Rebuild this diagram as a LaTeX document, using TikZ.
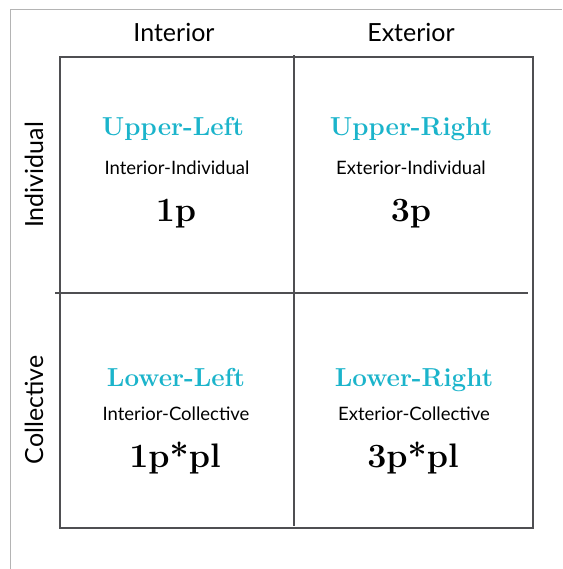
\documentclass[tikz,border=0pt]{standalone}
\usepackage{fontspec}
\newfontfamily\gill{Lato}
\definecolor{quadcyan}{HTML}{1BB4CB}
\definecolor{boxgray}{HTML}{4F4F52}
\definecolor{framegray}{HTML}{B4B4B4}
\begin{document}
\begin{tikzpicture}[x=1pt,y=-1pt,
  title/.style={text=quadcyan,font=\fontsize{26}{28}\selectfont\bfseries,inner sep=0pt},
  sub/.style={font=\gill\fontsize{18.5}{20}\selectfont,inner sep=0pt},
  code/.style={font=\fontsize{34}{36}\selectfont\bfseries,inner sep=0pt},
  head/.style={font=\gill\fontsize{25}{27}\selectfont,inner sep=0pt}]
\useasboundingbox (0,0) rectangle (562,569);
\fill[white] (0,0) rectangle (562,569);
\draw[framegray,line width=1pt] (10,569) -- (10,10) -- (562,10);
\draw[boxgray,line width=2pt] (60,57) rectangle (533,528);
\draw[boxgray,line width=1.6pt] (294,55) -- (294,526);
\draw[boxgray,line width=1.6pt] (55,293) -- (528,293);
\node[head,anchor=base] (hint) at (174,42) {Interior};
\node[head,anchor=base] (hext) at (411,42) {Exterior};
\node[head,anchor=base,rotate=90] (hind) at (43,175) {Individual};
\node[head,anchor=base,rotate=90] (hcol) at (43,410) {Collective};
\node[title,anchor=base] (ul) at (173,136) {Upper-Left};
\node[sub,anchor=base] (ulsub) at (177,175) {Interior-Individual};
\node[code,anchor=base] (ulcode) at (176,221) {1p};
\node[title,anchor=base] (ur) at (411,136) {Upper-Right};
\node[sub,anchor=base] (ursub) at (411,175) {Exterior-Individual};
\node[code,anchor=base] (urcode) at (411,221) {3p};
\node[title,anchor=base] (ll) at (176,386) {Lower-Left};
\node[sub,anchor=base] (llsub) at (176,420) {Interior-Collective};
\node[code,anchor=base] (llcode) at (175,467) {1p*pl};
\node[title,anchor=base] (lr) at (414,386) {Lower-Right};
\node[sub,anchor=base] (lrsub) at (414,420) {Exterior-Collective};
\node[code,anchor=base] (lrcode) at (413,467) {3p*pl};
\end{tikzpicture}
\end{document}
